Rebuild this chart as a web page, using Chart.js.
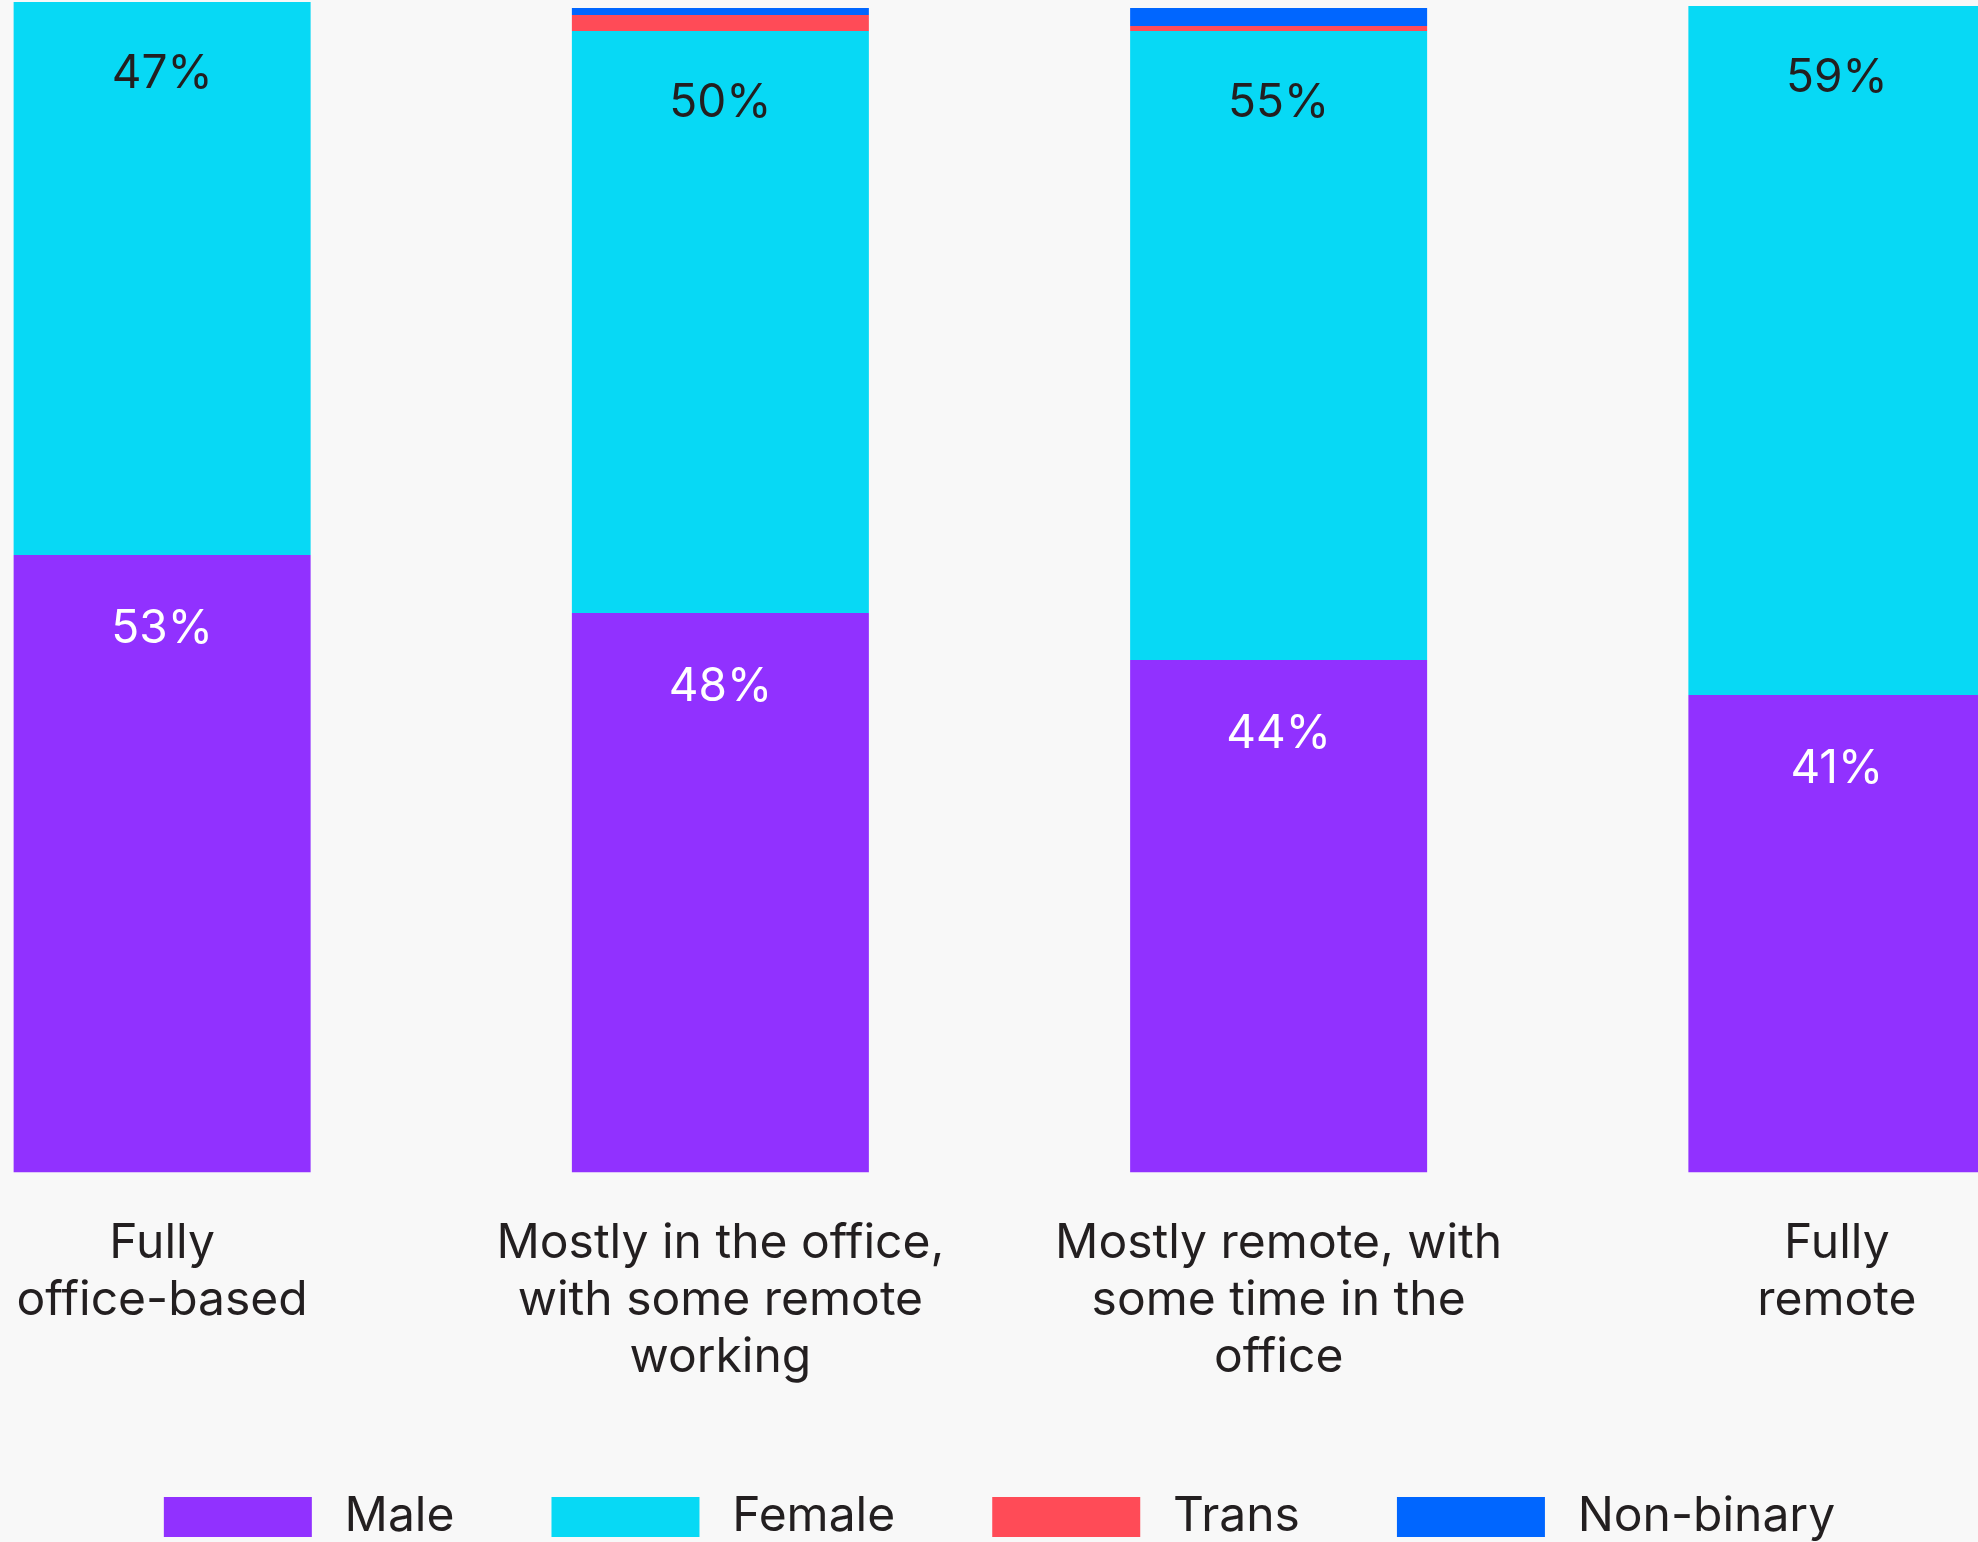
<!DOCTYPE html>
<html>
<head>
<meta charset="utf-8">
<style>
  html, body { margin: 0; padding: 0; background: #f8f8f8; overflow: hidden; }
  #wrap { position: relative; width: 2233px; height: 1551px; margin-left: -117px; }
</style>
</head>
<body>
<div id="wrap"><canvas id="chart"></canvas></div>
<script src="https://cdn.jsdelivr.net/npm/chart.js"></script>
<script>
// Work pattern vs gender, share of respondents (%)
const categories = [
    ['Fully', 'office-based'],
    ['Mostly in the office,', 'with some remote', 'working'],
    ['Mostly remote, with', 'some time in the', 'office'],
    ['Fully', 'remote']
];
const male = [52.76, 47.8, 43.78, 40.8];
const female = [47.24, 49.72, 53.74, 58.86];
const trans = [0, 1.37, 0.43, 0];
const nonBinary = [0, 0.6, 1.54, 0];
const maleLabels = ['53%', '48%', '44%', '41%'];
const femaleLabels = ['47%', '50%', '55%', '59%'];

// percentage text near the top of the male / female segments
const segmentLabels = {
    id: 'segmentLabels',
    afterDatasetsDraw(chart) {
        const ctx = chart.ctx;
        ctx.save();
        ctx.font = '46px Inter';
        ctx.textAlign = 'center';
        ctx.textBaseline = 'middle';
        [[0, maleLabels, '#ffffff', 74], [1, femaleLabels, '#231f20', 72]].forEach(([di, texts, color, off]) => {
            chart.getDatasetMeta(di).data.forEach((bar, i) => {
                ctx.fillStyle = color;
                ctx.fillText(texts[i], bar.x, bar.y + off);
            });
        });
        ctx.restore();
    }
};

const chart = new Chart(document.getElementById('chart'), {
    type: 'bar',
    data: {
        labels: categories,
        datasets: [
            { label: 'Male', data: male, backgroundColor: '#9131ff' },
            { label: 'Female', data: female, backgroundColor: '#07d9f5' },
            { label: 'Trans', data: trans, backgroundColor: '#ff4b57' },
            { label: 'Non-binary', data: nonBinary, backgroundColor: '#0066ff' }
        ]
    },
    options: {
        responsive: true,
        maintainAspectRatio: false,
        animation: false,
        events: [],
        layout: { padding: { top: 2 } },
        datasets: {
            bar: { categoryPercentage: 0.532, barPercentage: 1 }
        },
        plugins: {
            legend: {
                position: 'bottom',
                labels: {
                    boxWidth: 148,
                    boxHeight: 40,
                    padding: 97,
                    color: '#231f20',
                    font: { family: 'Inter', size: 48 },
                    generateLabels: c => Chart.defaults.plugins.legend.labels.generateLabels(c)
                        .map(item => ({ ...item, text: '\u2009' + item.text }))
                }
            },
            tooltip: { enabled: false }
        },
        scales: {
            x: {
                stacked: true,
                grid: { display: false },
                border: { display: false },
                ticks: {
                    padding: 35,
                    color: '#231f20',
                    autoSkip: false,
                    maxRotation: 0,
                    font: { family: 'Inter', size: 48, lineHeight: 1.1875 }
                },
                afterFit: scale => { scale.height = 223.5; }
            },
            y: { stacked: true, display: false, min: 0, max: 100 }
        }
    },
    plugins: [segmentLabels]
});
</script>
</body>
</html>
